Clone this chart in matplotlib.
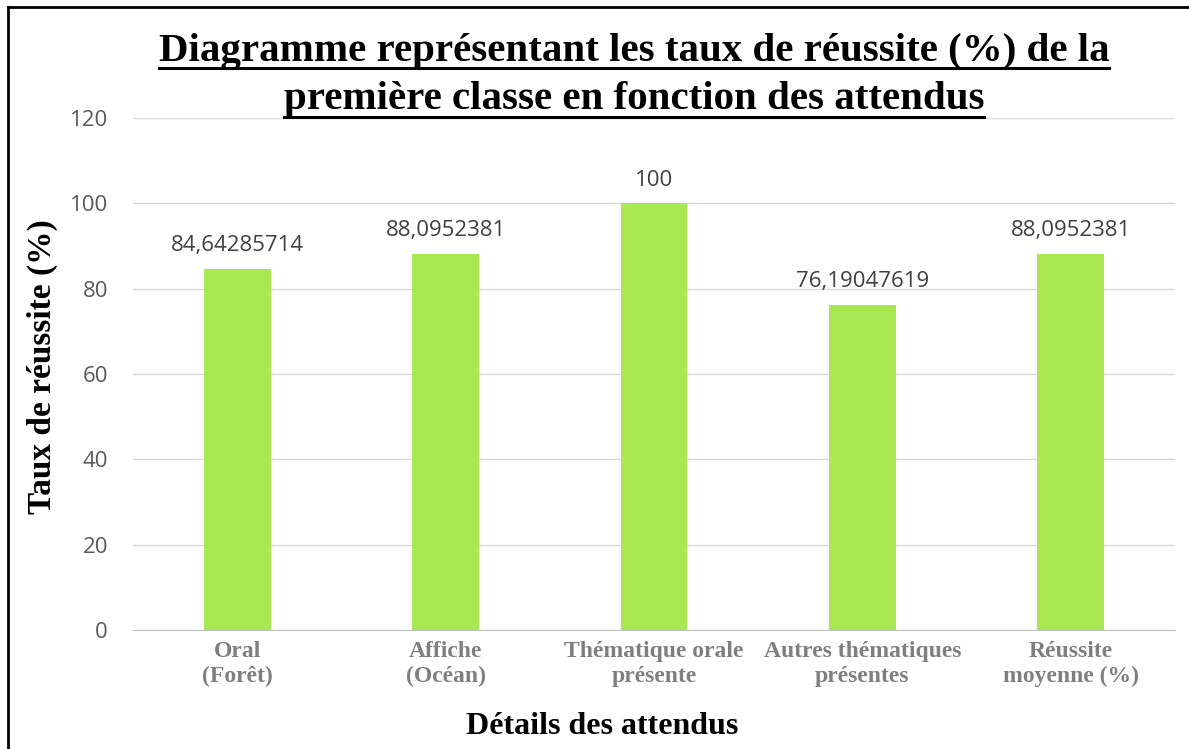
import matplotlib.pyplot as plt
from matplotlib.lines import Line2D

categories = ["Oral\n(Forêt)", "Affiche\n(Océan)", "Thématique orale\nprésente",
              "Autres thématiques\nprésentes", "Réussite\nmoyenne (%)"]
values = [84.64285714, 88.0952381, 100, 76.19047619, 88.0952381]
value_labels = ["84,64285714", "88,0952381", "100", "76,19047619", "88,0952381"]
yticks = [0, 20, 40, 60, 80, 100, 120]

fig = plt.figure(figsize=(11.89, 7.49), dpi=100)
ax = fig.add_axes([133 / 1189, 1 - 630 / 749, (1175 - 133) / 1189, 512 / 749])

x = range(len(categories))
ax.bar(x, values, width=0.32, color="#A8E853", zorder=3)
for i, v in enumerate(values):
    ax.text(i, v + 3, value_labels[i], ha="center", va="bottom",
            fontsize=16, color="#404040", family="Open Sans")

ax.set_xlim(-0.5, len(categories) - 0.5)
ax.set_ylim(0, 120)
ax.set_yticks(yticks)
ax.set_yticklabels([str(t) for t in yticks], fontsize=16, color="#595959", family="Open Sans")
ax.set_xticks(list(x))
ax.set_xticklabels(categories, fontsize=17, color="#7F7F7F", family="Liberation Serif",
                   fontweight="bold", linespacing=1.25)
ax.tick_params(axis="both", length=0)
ax.tick_params(axis="y", pad=18)
ax.tick_params(axis="x", pad=8)
ax.grid(axis="y", color="#D9D9D9", linewidth=1, zorder=0)
for s in ["top", "right", "left"]:
    ax.spines[s].set_visible(False)
ax.spines["bottom"].set_color("#BFBFBF")
ax.spines["bottom"].set_zorder(4)

ax.set_xlabel("Détails des attendus", fontsize=23, fontweight="bold",
              family="Liberation Serif")
ax.xaxis.set_label_coords((602 - 133) / (1175 - 133), -(727 - 630) / 512)
ax.xaxis.label.set_va("center")
ax.set_ylabel("Taux de réussite (%)", fontsize=24, fontweight="bold",
              family="Liberation Serif")
ax.yaxis.set_label_coords(-(133 - 42) / (1175 - 133), (630 - 367) / 512)
ax.yaxis.label.set_va("center")

t1 = fig.text(634 / 1189, 1 - 51 / 749, "Diagramme représentant les taux de réussite (%) de la",
              ha="center", va="center", fontsize=29.5, fontweight="bold",
              family="Liberation Serif")
t2 = fig.text(634 / 1189, 1 - 100 / 749, "première classe en fonction des attendus",
              ha="center", va="center", fontsize=29.5, fontweight="bold",
              family="Liberation Serif")

# underline the title lines
fig.canvas.draw()
r = fig.canvas.get_renderer()
for t in (t1, t2):
    bb = t.get_window_extent(r).transformed(fig.transFigure.inverted())
    fig.add_artist(Line2D([bb.x0, bb.x1], [bb.y0 + 0.002, bb.y0 + 0.002],
                          color="black", linewidth=2.2, transform=fig.transFigure))

# frame around the chart
fig.add_artist(Line2D([8 / 1189, 8 / 1189], [0, 1 - 7 / 749], color="black",
                      linewidth=2, transform=fig.transFigure))
fig.add_artist(Line2D([8 / 1189, 1], [1 - 7 / 749, 1 - 7 / 749], color="black",
                      linewidth=2, transform=fig.transFigure))

fig.savefig("out.png", dpi=100)
